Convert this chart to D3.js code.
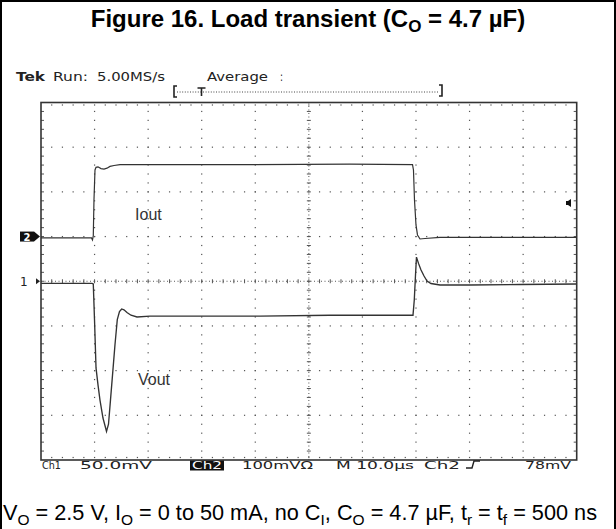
<!DOCTYPE html>
<html><head><meta charset="utf-8">
<script src="https://cdn.jsdelivr.net/npm/d3@7"></script>
<style>html,body{margin:0;padding:0;background:#fff;} svg{display:block}</style>
</head><body>
<script>
// ---- data (time in µs from left graticule edge, values in mV) ----
const voutTime = [0, 9.52, 9.76, 9.99, 10.27, 10.64, 11.01, 11.57, 12.23, 12.6, 12.97, 13.35, 13.81, 14.24, 14.65, 15.06, 15.49, 16.05, 16.8, 17.92, 20.35, 29.68, 40.88, 53.95, 69.44, 69.68, 69.91, 70.09, 70.47, 70.94, 71.5, 72.06, 72.8, 74.48, 80.08, 89.42, 100];
const voutMV   = [-2.3, -2.3, -3.1, -43, -97, -116, -133, -153, -168, -160, -133, -105, -71, -43, -34, -31, -32, -35, -38, -40, -39, -39, -39, -38, -38, -21, 7, 27, 20, 12.6, 5.9, 0.3, -2.5, -4.2, -4.2, -3.6, -3.1];
const ioutTime = [0, 9.43, 9.61, 9.76, 9.89, 10.08, 10.27, 10.64, 11.2, 11.76, 12.32, 12.88, 13.63, 14.75, 22.21, 39.01, 57.68, 69.35, 69.53, 69.72, 70.0, 70.28, 70.75, 71.68, 74.48, 100];
const ioutMV   = [-3.1, -3.1, -7.6, 1.3, 82, 149, 155, 156, 152, 151, 153, 157, 159, 161, 161, 161, 162, 161, 149, 82, 26, 3.6, -5.4, -4.3, -2, -2];

const ch1PerDiv = 50;   // mV/div
const ch2PerDiv = 100;  // mV/div
const timePerDiv = 10;  // µs/div
const ch1Offset = 0;    // divisions
const ch2Offset = 1;    // divisions

const topReadout = [
  {text: "Tek", x0: 16, x1: 45, bold: true},
  {text: "Run:", x0: 53, x1: 88},
  {text: "5.00MS/s", x0: 97, x1: 165},
  {text: "Average", x0: 207, x1: 268},
  {text: ":", x0: 280, x1: 283}
];
const bottomReadout = [
  {text: "Ch1", x0: 42, x1: 61},
  {text: "50.0mV", x0: 80, x1: 152},
  {text: "Ch2", x0: 192, x1: 222, inverse: true},
  {text: "100mVΩ", x0: 242, x1: 313},
  {text: "M 10.0µs", x0: 336, x1: 414},
  {text: "Ch2", x0: 424, x1: 460},
  {text: "78mV", x0: 525, x1: 571}
];
const traceLabels = [{text: "Iout", t: 17.56, div: 1.38}, {text: "Vout", t: 18.1, div: -2.33}];

// ---- layout ----
const W = 616, H = 529;
const L = 41, R = 576.7, T = 102.5, B = 460;
const svg = d3.select("body").append("svg").attr("width", W).attr("height", H);
svg.append("rect").attr("width", W).attr("height", H).attr("fill", "#fff");

svg.append("path").attr("d", `M1,${H} L1,1 L615,1 L615,${H}`).attr("fill", "none").attr("stroke", "#000").attr("stroke-width", 2);

const title = svg.append("text").attr("x", 308).attr("y", 27).attr("text-anchor", "middle")
  .attr("font-family", "Liberation Sans, Arial, sans-serif").attr("font-weight", "bold").attr("font-size", 24).attr("fill", "#000");
title.append("tspan").text("Figure 16. Load transient (C");
title.append("tspan").attr("dy", 5).attr("font-size", 17).text("O");
title.append("tspan").attr("dy", -5).text(" = 4.7 µF)");

const cap = svg.append("text").attr("x", 3).attr("y", 520)
  .attr("font-family", "Liberation Sans, Arial, sans-serif").attr("font-size", 21.7).attr("fill", "#000");
const capParts = [["V",0],["O",1],[" = 2.5 V, I",0],["O",1],[" = 0 to 50 mA, no C",0],["I",1],[", C",0],["O",1],[" = 4.7 µF, t",0],["r",1],[" = t",0],["f",1],[" = 500 ns",0]];
let prevSub = 0;
capParts.forEach(([s, sub]) => {
  const ts = cap.append("tspan").text(s);
  if (sub) ts.attr("font-size", 15.5);
  const dy = (sub - prevSub) * 5;
  if (dy) ts.attr("dy", dy);
  prevSub = sub;
});

const x = d3.scaleLinear().domain([0, 10 * timePerDiv]).range([L, R]);
const xDiv = d3.scaleLinear().domain([0, 10]).range([L, R]);
const yDiv = d3.scaleLinear().domain([-4, 4]).range([B, T]);
const y1 = v => yDiv(v / ch1PerDiv + ch1Offset);
const y2 = v => yDiv(v / ch2PerDiv + ch2Offset);

const g = svg.append("g");
const dotColor = "#555";
function dot(px, py, s = 1.2) {
  g.append("rect").attr("x", px - s / 2).attr("y", py - s / 2).attr("width", s).attr("height", s).attr("fill", dotColor);
}
for (let r = -3; r <= 3; r++) {
  if (r === 0) continue;
  for (let k = 1; k < 50; k++) dot(xDiv(k * 0.2), yDiv(r));
}
for (let c = 1; c <= 9; c++) {
  if (c === 5) continue;
  for (let k = 1; k < 40; k++) dot(xDiv(c), yDiv(-4 + k * 0.2));
}
g.append("line").attr("x1", L).attr("x2", R).attr("y1", yDiv(0)).attr("y2", yDiv(0))
  .attr("stroke", dotColor).attr("stroke-width", 1).attr("stroke-dasharray", "1,2.5");
g.append("line").attr("x1", xDiv(5)).attr("x2", xDiv(5)).attr("y1", T).attr("y2", B)
  .attr("stroke", dotColor).attr("stroke-width", 1).attr("stroke-dasharray", "1,2.5");
for (let k = 1; k < 50; k++) {
  const px = xDiv(k * 0.2);
  g.append("line").attr("x1", px).attr("x2", px).attr("y1", yDiv(0) - 2).attr("y2", yDiv(0) + 2).attr("stroke", dotColor).attr("stroke-width", 1);
}
for (let k = 1; k < 40; k++) {
  const py = yDiv(-4 + k * 0.2);
  g.append("line").attr("x1", xDiv(5) - 2).attr("x2", xDiv(5) + 2).attr("y1", py).attr("y2", py).attr("stroke", dotColor).attr("stroke-width", 1);
}
for (let k = 1; k < 50; k++) {
  const px = xDiv(k * 0.2);
  dot(px, T + 2.5); dot(px, B - 2.5);
}
for (let k = 1; k < 40; k++) {
  const py = yDiv(-4 + k * 0.2);
  g.append("line").attr("x1", L).attr("x2", L + 3).attr("y1", py).attr("y2", py).attr("stroke", dotColor).attr("stroke-width", 1);
  g.append("line").attr("x1", R - 3).attr("x2", R).attr("y1", py).attr("y2", py).attr("stroke", dotColor).attr("stroke-width", 1);
}
g.append("rect").attr("x", L).attr("y", T).attr("width", R - L).attr("height", B - T)
  .attr("fill", "none").attr("stroke", "#333").attr("stroke-width", 1.6);

const traceColor = "#333";
const lineV = d3.line().x((d, i) => x(voutTime[i])).y((d, i) => y1(voutMV[i]));
const lineI = d3.line().x((d, i) => x(ioutTime[i])).y((d, i) => y2(ioutMV[i]));
svg.append("path").attr("d", lineI(ioutMV)).attr("fill", "none").attr("stroke", traceColor).attr("stroke-width", 1.2);
svg.append("path").attr("d", lineV(voutMV)).attr("fill", "none").attr("stroke", traceColor).attr("stroke-width", 1.35);

traceLabels.forEach(l => {
  svg.append("text").attr("x", x(l.t)).attr("y", yDiv(l.div)).attr("font-family", "Liberation Sans, Arial, sans-serif")
    .attr("font-size", 16).attr("fill", "#333").text(l.text);
});

const yc2 = yDiv(ch2Offset), yc1 = yDiv(ch1Offset);
svg.append("rect").attr("x", 20).attr("y", yc2 - 5).attr("width", 14).attr("height", 10).attr("fill", "#111");
svg.append("text").attr("x", 27).attr("y", yc2 + 4).attr("text-anchor", "middle").attr("font-family", "DejaVu Sans, sans-serif")
  .attr("font-size", 10).attr("font-weight", "bold").attr("fill", "#fff").text("2");
svg.append("path").attr("d", `M34,${yc2 - 5} L40,${yc2} L34,${yc2 + 5} Z`).attr("fill", "#111");
svg.append("text").attr("x", 20).attr("y", yc1 + 5).attr("font-family", "DejaVu Sans, sans-serif")
  .attr("font-size", 12).attr("fill", "#222").text("1");
svg.append("path").attr("d", `M36,${yc1 - 3} L40,${yc1} L36,${yc1 + 3} Z`).attr("fill", "#222");

svg.append("path").attr("d", `M571,199 L571,207 L568,205 L566,205 L566,201 L568,201 Z`).attr("fill", "#111");

topReadout.forEach(t => {
  svg.append("text").attr("x", t.x0).attr("y", 81).attr("font-family", "DejaVu Sans, sans-serif")
    .attr("font-size", 12).attr("font-weight", t.bold ? "bold" : "normal").attr("fill", "#222")
    .attr("textLength", t.x1 - t.x0).attr("lengthAdjust", "spacingAndGlyphs").text(t.text);
});
const by = 92;
svg.append("path").attr("d", `M177,86 L174,86 L174,97 L177,97`).attr("fill", "none").attr("stroke", "#222").attr("stroke-width", 1.6);
svg.append("path").attr("d", `M439,85 L442,85 L442,96 L439,96`).attr("fill", "none").attr("stroke", "#222").attr("stroke-width", 1.6);
svg.append("line").attr("x1", 177).attr("x2", 439).attr("y1", by).attr("y2", by).attr("stroke", "#444").attr("stroke-width", 1).attr("stroke-dasharray", "1,1.6");
svg.append("path").attr("d", `M197.5,88 L205.5,88 M201.5,88 L201.5,96`).attr("fill", "none").attr("stroke", "#222").attr("stroke-width", 1.6);

bottomReadout.forEach(t => {
  if (t.inverse) svg.append("rect").attr("x", t.x0 - 2).attr("y", B + 0.5).attr("width", t.x1 - t.x0 + 4).attr("height", 10).attr("fill", "#111");
  svg.append("text").attr("x", t.x0).attr("y", B + 9).attr("font-family", "DejaVu Sans, sans-serif")
    .attr("font-size", 11).attr("fill", t.inverse ? "#fff" : "#222")
    .attr("textLength", t.x1 - t.x0).attr("lengthAdjust", "spacingAndGlyphs").text(t.text);
});
svg.append("path").attr("d", `M466,468 L472,468 L474,461 L480,461`).attr("fill", "none").attr("stroke", "#222").attr("stroke-width", 1.4);
</script>
</body></html>
